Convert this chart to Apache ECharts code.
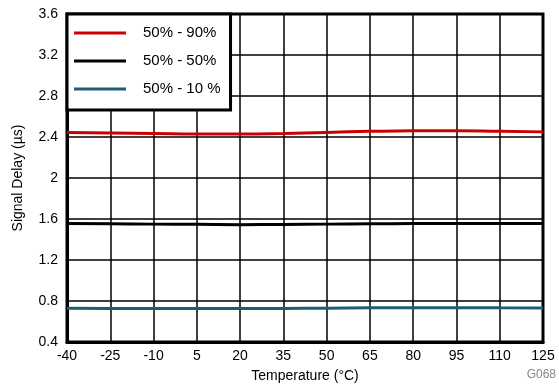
<!DOCTYPE html>
<html><head><meta charset="utf-8">
<script src="https://cdn.jsdelivr.net/npm/echarts@6/dist/echarts.min.js"></script>
<style>html,body{margin:0;padding:0;background:#fff}#c{width:559px;height:388px}</style>
</head><body><div id="c"></div>
<script>
const temps = ['-40','-25','-10','5','20','35','50','65','80','95','110','125'];
const s90 = [2.445,2.440,2.435,2.430,2.430,2.435,2.445,2.455,2.460,2.460,2.455,2.450];
const s50 = [1.555,1.553,1.550,1.548,1.545,1.547,1.550,1.553,1.555,1.557,1.557,1.556];
const s10 = [0.730,0.728,0.727,0.726,0.726,0.727,0.730,0.733,0.735,0.735,0.733,0.732];
const names = ['50% - 90%','50% - 50%','50% - 10 %'];
const colors = ['#cc0000','#000000','#1b5e72'];
const F = 'Liberation Sans, Arial, sans-serif';
const chart = echarts.init(document.getElementById('c'));
const mk = (i, d) => ({name: names[i], type:'line', data:d, symbol:'none', smooth:true,
  lineStyle:{color:colors[i], width:3}, itemStyle:{color:colors[i]}, z:3});
chart.setOption({
  animation:false,
  grid:{left:67,right:16,top:14,bottom:46,show:true,borderColor:'#000',borderWidth:3},
  legend:{orient:'vertical',left:67,top:14,backgroundColor:'#fff',borderColor:'#000',borderWidth:3,
    padding:[10,10,12,7],itemWidth:52,itemHeight:3,itemGap:10,icon:'rect',
    textStyle:{fontFamily:F,fontSize:15,color:'#000',padding:[0,0,0,12],lineHeight:18},data:names},
  xAxis:{type:'category',data:temps,boundaryGap:false,
    name:'Temperature (°C)',nameLocation:'middle',nameGap:27,
    nameTextStyle:{fontFamily:F,fontSize:14,color:'#000'},
    axisLine:{lineStyle:{color:'#000',width:3}},axisTick:{show:false},
    axisLabel:{fontFamily:F,fontSize:14,color:'#000',margin:7,interval:0},
    splitLine:{show:true,lineStyle:{color:'#000',width:1.5}}},
  yAxis:{type:'value',min:0.4,max:3.6,interval:0.4,
    name:'Signal Delay (µs)',nameLocation:'middle',nameGap:42,
    nameTextStyle:{fontFamily:F,fontSize:14,color:'#000'},
    axisLine:{show:true,lineStyle:{color:'#000',width:3}},axisTick:{show:false},
    axisLabel:{fontFamily:F,fontSize:14,color:'#000',margin:9,
      formatter:v=>String(Math.round(v*10)/10)},
    splitLine:{show:true,lineStyle:{color:'#000',width:1.5}}},
  graphic:[{type:'text',right:3,top:369,style:{text:'G068',fontFamily:F,fontSize:12,fill:'#888'}}],
  series:[mk(0,s90),mk(1,s50),mk(2,s10)]
});
</script></body></html>
